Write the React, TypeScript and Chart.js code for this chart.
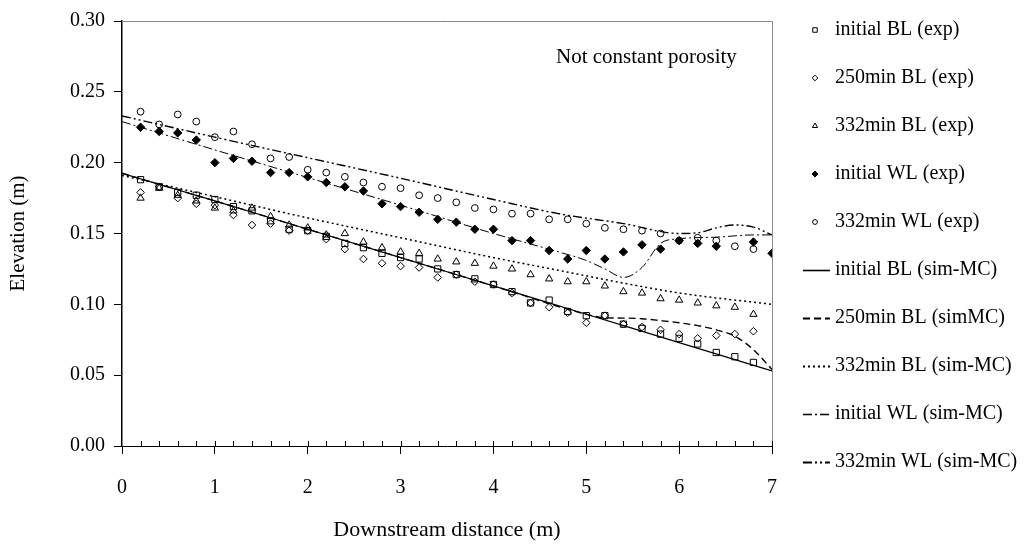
import React, { useEffect, useRef } from "react";
import { Chart, registerables } from "chart.js";

Chart.register(...registerables);

const FONT = "Liberation Serif";

// ---- experimental data (downstream distance in m) ----
const X_EXP = [0.2, 0.4, 0.6, 0.8, 1.0, 1.2, 1.4, 1.6, 1.8, 2.0, 2.2, 2.4, 2.6, 2.8, 3.0, 3.2, 3.4, 3.6, 3.8, 4.0, 4.2, 4.4, 4.6, 4.8, 5.0, 5.2, 5.4, 5.6, 5.8, 6.0, 6.2, 6.4, 6.6, 6.8, 7.0];

const BL_INITIAL_EXP = [0.188, 0.183, 0.179, 0.177, 0.174, 0.169, 0.166, 0.159, 0.153, 0.152, 0.148, 0.143, 0.140, 0.136, 0.133, 0.132, 0.125, 0.121, 0.118, 0.114, 0.109, 0.101, 0.103, 0.095, 0.092, 0.092, 0.086, 0.083, 0.079, 0.076, 0.072, 0.066, 0.063, 0.059, null];
const BL_250_EXP = [0.179, 0.183, 0.175, 0.171, 0.170, 0.163, 0.156, 0.157, 0.152, 0.152, 0.146, 0.139, 0.132, 0.129, 0.127, 0.126, 0.119, 0.121, 0.116, 0.114, 0.108, 0.101, 0.098, 0.094, 0.087, 0.092, 0.086, 0.084, 0.082, 0.079, 0.076, 0.078, 0.079, 0.081, null];
const BL_332_EXP = [0.175, 0.182, 0.177, 0.173, 0.168, 0.166, 0.168, 0.162, 0.156, 0.154, 0.149, 0.150, 0.144, 0.140, 0.137, 0.136, 0.132, 0.130, 0.129, 0.127, 0.125, 0.121, 0.118, 0.116, 0.116, 0.113, 0.109, 0.108, 0.104, 0.103, 0.101, 0.099, 0.098, 0.093, null];
const WL_INITIAL_EXP = [0.225, 0.222, 0.221, 0.216, 0.200, 0.203, 0.201, 0.193, 0.193, 0.190, 0.186, 0.183, 0.180, 0.171, 0.169, 0.165, 0.160, 0.158, 0.153, 0.153, 0.145, 0.145, 0.138, 0.132, 0.138, 0.132, 0.137, 0.142, 0.139, 0.145, 0.143, 0.141, null, 0.144, 0.136];
const WL_332_EXP = [0.236, 0.227, 0.234, 0.229, 0.218, 0.222, 0.213, 0.203, 0.204, 0.195, 0.193, 0.190, 0.186, 0.183, 0.182, 0.177, 0.175, 0.172, 0.168, 0.167, 0.164, 0.164, 0.160, 0.160, 0.157, 0.154, 0.153, 0.152, 0.150, 0.145, 0.147, 0.145, 0.141, 0.139, null];

// ---- simulated (sim-MC) profiles ----
const X_BL_INITIAL_SIM = [0, 1, 2, 3, 4, 5, 6, 7];
const BL_INITIAL_SIM = [0.1925, 0.173, 0.153, 0.133, 0.113, 0.093, 0.073, 0.053];

const X_BL_250_SIM = [0, 1, 2, 3, 4, 5, 5.2, 5.4, 5.6, 5.8, 6.0, 6.2, 6.4, 6.6, 6.8, 7.0];
const BL_250_SIM = [0.1925, 0.173, 0.153, 0.133, 0.113, 0.093, 0.0905, 0.0903, 0.0898, 0.0885, 0.087, 0.085, 0.082, 0.0775, 0.068, 0.054];

const X_BL_332_SIM = [0, 1, 2, 3, 4, 4.7, 5.4, 6.0, 7.0];
const BL_332_SIM = [0.191, 0.176, 0.161, 0.147, 0.133, 0.124, 0.115, 0.108, 0.100];

const X_WL_INITIAL_SIM = [0, 1, 2, 3, 4, 4.7, 5.0, 5.2, 5.4, 5.6, 5.8, 6.0, 6.4, 6.8, 7.0];
const WL_INITIAL_SIM = [0.229, 0.209, 0.1895, 0.170, 0.150, 0.137, 0.131, 0.125, 0.119, 0.126, 0.143, 0.1463, 0.1474, 0.149, 0.149];

const X_WL_332_SIM = [0, 1, 2, 3, 4, 4.7, 5.4, 6.0, 6.2, 6.4, 6.6, 6.8, 7.0];
const WL_332_SIM = [0.233, 0.218, 0.2035, 0.189, 0.174, 0.164, 0.157, 0.150, 0.1505, 0.154, 0.156, 0.1545, 0.149];

const LABELS = [
  "initial BL (exp)",
  "250min BL (exp)",
  "332min BL (exp)",
  "initial WL (exp)",
  "332min WL (exp)",
  "initial BL (sim-MC)",
  "250min BL (simMC)",
  "332min BL (sim-MC)",
  "initial WL (sim-MC)",
  "332min WL (sim-MC)",
];

const NOTE = "Not constant porosity";
const X_TITLE = "Downstream distance (m)";
const Y_TITLE = "Elevation (m)";
const X_MIN = 0, X_MAX = 7, X_STEP = 1, X_MINOR = 0.2;
const Y_MIN = 0, Y_MAX = 0.3, Y_STEP = 0.05;

function pts(xs: number[], ys: (number | null)[]) {
  const out: { x: number; y: number }[] = [];
  xs.forEach((x, i) => {
    const y = ys[i];
    if (y !== null && y !== undefined) out.push({ x, y });
  });
  return out;
}

type Marker = { style: string; r: number; filled: boolean; legendR: number };

function drawMarker(ctx: CanvasRenderingContext2D, m: Marker, x: number, y: number, r: number) {
  ctx.beginPath();
  if (m.style === "rect") {
    const s = r * Math.SQRT1_2;
    ctx.rect(x - s, y - s, 2 * s, 2 * s);
  } else if (m.style === "rectRot") {
    ctx.moveTo(x - r, y);
    ctx.lineTo(x, y - r);
    ctx.lineTo(x + r, y);
    ctx.lineTo(x, y + r);
    ctx.closePath();
  } else if (m.style === "triangle") {
    for (let k = 0; k < 3; k++) {
      const a = (k * 2 * Math.PI) / 3;
      const px = x + Math.sin(a) * r;
      const py = y - Math.cos(a) * r;
      if (k === 0) ctx.moveTo(px, py);
      else ctx.lineTo(px, py);
    }
    ctx.closePath();
  } else {
    ctx.arc(x, y, r, 0, Math.PI * 2);
  }
  if (m.filled) {
    ctx.fillStyle = "#000";
    ctx.fill();
  }
  ctx.strokeStyle = "#000";
  ctx.lineWidth = 1;
  ctx.stroke();
}

const MARKERS: Marker[] = [
  { style: "rect", r: 4.4, filled: false, legendR: 3.2 },
  { style: "rectRot", r: 3.8, filled: false, legendR: 2.8 },
  { style: "triangle", r: 4.2, filled: false, legendR: 3.0 },
  { style: "rectRot", r: 4.2, filled: true, legendR: 3.0 },
  { style: "circle", r: 3.4, filled: false, legendR: 2.4 },
];

type LineStyle = { dash: number[]; width: number };
const LINES: LineStyle[] = [
  { dash: [], width: 1.2 },
  { dash: [7, 4], width: 1.4 },
  { dash: [2, 3], width: 1.5 },
  { dash: [9, 3, 2, 3], width: 1 },
  { dash: [9, 3, 2, 3, 2, 3], width: 1.4 },
];

const decorPlugin = {
  id: "decor",
  afterDraw(chart: any) {
    const { ctx, chartArea: a, scales } = chart;
    ctx.save();
    // frame top/right
    ctx.strokeStyle = "#8a8a8a";
    ctx.lineWidth = 1;
    ctx.setLineDash([]);
    ctx.beginPath();
    ctx.moveTo(a.left, a.top + 0.5);
    ctx.lineTo(a.right + 0.5, a.top + 0.5);
    ctx.lineTo(a.right + 0.5, a.bottom);
    ctx.stroke();
    // minor ticks on x axis
    ctx.strokeStyle = "#000";
    ctx.beginPath();
    const n = Math.round((X_MAX - X_MIN) / X_MINOR);
    for (let i = 1; i <= n; i++) {
      const px = Math.round(scales.x.getPixelForValue(X_MIN + i * X_MINOR)) + 0.5;
      ctx.moveTo(px, a.bottom);
      ctx.lineTo(px, a.bottom - 5);
    }
    ctx.stroke();
    // note
    ctx.fillStyle = "#000";
    ctx.font = `21px "${FONT}"`;
    ctx.textBaseline = "middle";
    ctx.textAlign = "left";
    ctx.fillText(NOTE, a.right - 216, a.top + 36);
    // legend
    ctx.font = `20px "${FONT}"`;
    const lx = a.right + 31;
    const ly0 = 30;
    const step = 48;
    LABELS.forEach((lab, i) => {
      const y = ly0 + i * step;
      if (i < 5) {
        const m = MARKERS[i];
        drawMarker(ctx, m, lx + 12, y, m.legendR);
      } else {
        const l = LINES[i - 5];
        ctx.save();
        ctx.strokeStyle = "#000";
        ctx.lineWidth = l.width + 0.4;
        ctx.setLineDash(l.dash);
        ctx.beginPath();
        ctx.moveTo(lx, y + 0.5);
        ctx.lineTo(lx + 27, y + 0.5);
        ctx.stroke();
        ctx.restore();
      }
      ctx.fillStyle = "#000";
      ctx.fillText(lab, lx + 32, y);
    });
    ctx.restore();
  },
};

export default function App() {
  const ref = useRef<HTMLCanvasElement | null>(null);
  useEffect(() => {
    if (!ref.current) return;
    const expSets = [BL_INITIAL_EXP, BL_250_EXP, BL_332_EXP, WL_INITIAL_EXP, WL_332_EXP].map((ys, i) => {
      const m = MARKERS[i];
      return {
        label: LABELS[i],
        data: pts(X_EXP, ys),
        showLine: false,
        pointStyle: m.style,
        pointRadius: m.r,
        pointBorderWidth: 1,
        pointBorderColor: "#000",
        pointBackgroundColor: m.filled ? "#000" : "rgba(0,0,0,0)",
      };
    });
    const simX = [X_BL_INITIAL_SIM, X_BL_250_SIM, X_BL_332_SIM, X_WL_INITIAL_SIM, X_WL_332_SIM];
    const simY = [BL_INITIAL_SIM, BL_250_SIM, BL_332_SIM, WL_INITIAL_SIM, WL_332_SIM];
    const simSets = simY.map((ys, i) => ({
      label: LABELS[i + 5],
      data: pts(simX[i], ys),
      showLine: true,
      pointRadius: 0,
      borderColor: "#000",
      borderWidth: LINES[i].width,
      borderDash: LINES[i].dash,
      fill: false,
      cubicInterpolationMode: "monotone",
    }));
    const chart = new Chart(ref.current, {
      type: "scatter",
      data: { datasets: [...expSets, ...simSets] as any },
      options: {
        animation: false,
        responsive: false,
        devicePixelRatio: 1,
        events: [],
        layout: { padding: { top: 21, right: 253, left: 0, bottom: 0 } },
        plugins: { legend: { display: false }, tooltip: { enabled: false } },
        scales: {
          x: {
            type: "linear",
            min: X_MIN,
            max: X_MAX,
            afterFit: (s: any) => {
              s.height = 105;
            },
            ticks: {
              stepSize: X_STEP,
              color: "#000",
              padding: 22,
              font: { family: FONT, size: 20 },
              callback: (v: any) => String(v),
            },
            grid: { drawOnChartArea: false, drawTicks: true, tickLength: 8, color: "#000" },
            border: { color: "#000", width: 1 },
            title: {
              display: true,
              text: X_TITLE,
              color: "#000",
              font: { family: FONT, size: 22 },
              padding: { top: 0, bottom: 8 },
            },
          },
          y: {
            type: "linear",
            min: Y_MIN,
            max: Y_MAX,
            afterFit: (s: any) => {
              s.width = 122;
            },
            ticks: {
              stepSize: Y_STEP,
              color: "#000",
              padding: 9,
              font: { family: FONT, size: 20 },
              callback: (v: any) => Number(v).toFixed(2),
            },
            grid: { drawOnChartArea: false, drawTicks: true, tickLength: 8, color: "#000" },
            border: { color: "#000", width: 1.5 },
            title: {
              display: true,
              text: Y_TITLE,
              color: "#000",
              font: { family: FONT, size: 21 },
              padding: { top: 6, bottom: 0 },
            },
          },
        },
      },
      plugins: [decorPlugin],
    } as any);
    return () => chart.destroy();
  }, []);
  return (
    <div style={{ position: "absolute", left: 0, top: 0, width: 1025, height: 551, background: "#fff" }}>
      <canvas ref={ref} width={1025} height={551} style={{ display: "block" }} />
    </div>
  );
}
